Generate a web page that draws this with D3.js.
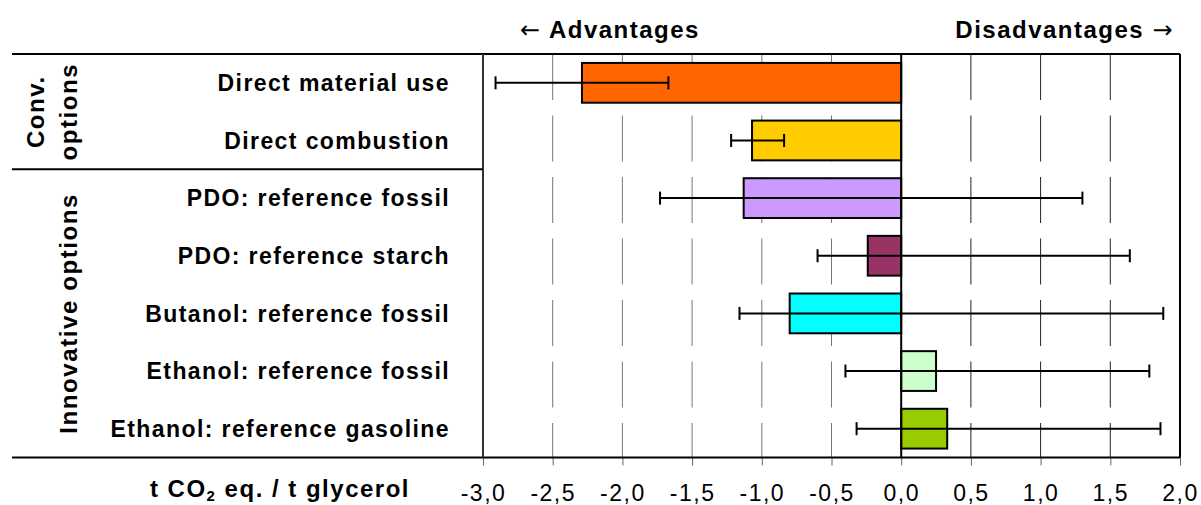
<!DOCTYPE html>
<html>
<head>
<meta charset="utf-8">
<script src="https://cdn.jsdelivr.net/npm/d3@7"></script>
<style>
  html, body { margin: 0; padding: 0; background: #fff; }
  svg { display: block; font-family: "Liberation Sans", Arial, sans-serif; }
</style>
</head>
<body>
<svg id="chart" width="1201" height="505"></svg>
<script>
var categories = [
    'Direct material use',
    'Direct combustion',
    'PDO: reference fossil',
    'PDO: reference starch',
    'Butanol: reference fossil',
    'Ethanol: reference fossil',
    'Ethanol: reference gasoline'
];
var values = [-2.29, -1.07, -1.13, -0.24, -0.80, 0.25, 0.33];
var errLow = [-2.91, -1.22, -1.73, -0.60, -1.16, -0.40, -0.32];
var errHigh = [-1.67, -0.84, 1.30, 1.64, 1.88, 1.78, 1.86];
var barColors = ['#FF6600', '#FFCC00', '#CC99FF', '#993366', '#00FFFF', '#CCFFCC', '#99CC00'];
var tickValues = [-3, -2.5, -2, -1.5, -1, -0.5, 0, 0.5, 1, 1.5, 2];
var groupLabels = [['Conv.', 'options'], ['Innovative options']];
var groupFirst = [0, 2];
var groupLast = [1, 6];

var svg = d3.select('#chart');
var plotLeft = 483, plotRight = 1180, plotTop = 54, plotBottom = 457.5, frameLeft = 12;

var x = d3.scaleLinear().domain([-3, 2]).range([plotLeft, plotRight]);
var y = d3.scaleBand().domain(categories).range([plotTop, plotBottom]).paddingInner(0.31).paddingOuter(0.155);
var band = d3.scaleBand().domain(categories).range([plotTop, plotBottom]);

var commaFmt = d3.formatLocale({ decimal: ',', thousands: '.', grouping: [3], currency: ['', ''], minus: '-' }).format('.1f');

// dashed gridlines
svg.append('g')
    .selectAll('line')
    .data(tickValues.filter(function (d) { return d > -3 && d < 2 && d !== 0; }))
    .enter()
    .append('line')
    .attr('x1', function (d) { return x(d); })
    .attr('x2', function (d) { return x(d); })
    .attr('y1', plotTop)
    .attr('y2', plotBottom)
    .attr('stroke', function (d) { return d < 0 ? '#777' : '#222'; })
    .attr('stroke-width', 1)
    .attr('stroke-dasharray', '46,15.5');

// bars
svg.append('g')
    .selectAll('rect')
    .data(values)
    .enter()
    .append('rect')
    .attr('x', function (d) { return x(Math.min(0, d)); })
    .attr('width', function (d) { return Math.abs(x(d) - x(0)); })
    .attr('y', function (d, i) { return y(categories[i]); })
    .attr('height', y.bandwidth())
    .attr('fill', function (d, i) { return barColors[i]; })
    .attr('stroke', '#000')
    .attr('stroke-width', 2);

// zero line
svg.append('line')
    .attr('x1', x(0)).attr('x2', x(0))
    .attr('y1', plotTop).attr('y2', plotBottom)
    .attr('stroke', '#000').attr('stroke-width', 2);

// error bars
var err = svg.append('g').attr('stroke', '#000').attr('stroke-width', 2);
categories.forEach(function (c, i) {
    var cy = band(c) + band.bandwidth() / 2;
    err.append('line').attr('x1', x(errLow[i])).attr('x2', x(errHigh[i])).attr('y1', cy).attr('y2', cy);
    err.append('line').attr('x1', x(errLow[i])).attr('x2', x(errLow[i])).attr('y1', cy - 6.5).attr('y2', cy + 6.5);
    err.append('line').attr('x1', x(errHigh[i])).attr('x2', x(errHigh[i])).attr('y1', cy - 6.5).attr('y2', cy + 6.5);
});

// axis with ticks and labels
var axis = svg.append('g')
    .attr('transform', 'translate(0,' + plotBottom + ')')
    .call(d3.axisBottom(x).tickValues(tickValues).tickSize(8).tickPadding(19).tickFormat(commaFmt));
axis.select('.domain').remove();
axis.selectAll('.tick line').attr('stroke', '#666');
axis.selectAll('.tick text')
    .attr('font-family', '"Liberation Sans", Arial, sans-serif')
    .attr('font-size', 23)
    .attr('letter-spacing', '1.5px')
    .attr('fill', '#000');

// frame
var frame = svg.append('g').attr('stroke', '#000').attr('stroke-width', 2);
frame.append('line').attr('x1', frameLeft).attr('x2', plotRight).attr('y1', plotTop).attr('y2', plotTop);
frame.append('line').attr('x1', frameLeft).attr('x2', plotRight).attr('y1', plotBottom).attr('y2', plotBottom);
frame.append('line').attr('x1', plotLeft).attr('x2', plotLeft).attr('y1', plotTop).attr('y2', plotBottom).attr('stroke', '#333');
frame.append('line').attr('x1', plotRight).attr('x2', plotRight).attr('y1', plotTop).attr('y2', plotBottom);
frame.append('line').attr('x1', frameLeft).attr('x2', plotLeft)
    .attr('y1', band(categories[2])).attr('y2', band(categories[2]));

// category labels
svg.append('g')
    .selectAll('text')
    .data(categories)
    .enter()
    .append('text')
    .attr('x', 450)
    .attr('y', function (d) { return band(d) + band.bandwidth() / 2; })
    .attr('dy', '0.36em')
    .attr('text-anchor', 'end')
    .attr('font-size', 23)
    .attr('font-weight', 'bold')
    .attr('letter-spacing', '1.4px')
    .text(function (d) { return d; });

// group labels, rotated
groupLabels.forEach(function (lines, g) {
    var y0 = band(categories[groupFirst[g]]);
    var y1 = band(categories[groupLast[g]]) + band.bandwidth();
    var cy = (y0 + y1) / 2;
    lines.forEach(function (t, k) {
        var bx = 77 - (lines.length - 1 - k) * 33;
        svg.append('text')
            .attr('transform', 'translate(' + bx + ',' + cy + ') rotate(-90)')
            .attr('text-anchor', 'middle')
            .attr('font-size', 24)
            .attr('font-weight', 'bold')
            .attr('letter-spacing', '1.6px')
            .text(t);
    });
});

// header
var adv = svg.append('text')
    .attr('x', 520).attr('y', 38)
    .attr('font-size', 24).attr('font-weight', 'bold').attr('letter-spacing', '1.5px');
adv.append('tspan').attr('font-family', '"DejaVu Sans", sans-serif').attr('font-weight', 'normal').text('\u2190');
adv.append('tspan').text(' Advantages');
var dis = svg.append('text')
    .attr('x', 1174).attr('y', 38)
    .attr('text-anchor', 'end')
    .attr('font-size', 24).attr('font-weight', 'bold').attr('letter-spacing', '1.5px');
dis.append('tspan').text('Disadvantages ');
dis.append('tspan').attr('font-family', '"DejaVu Sans", sans-serif').attr('font-weight', 'normal').text('\u2192');

// axis title
var title = svg.append('text')
    .attr('x', 410).attr('y', 497)
    .attr('text-anchor', 'end')
    .attr('font-size', 24).attr('font-weight', 'bold').attr('letter-spacing', '1.5px');
title.append('tspan').text('t CO');
title.append('tspan').attr('font-size', 15).attr('dy', 4).text('2');
title.append('tspan').attr('dy', -4).text(' eq. / t glycerol');
</script>
</body>
</html>
